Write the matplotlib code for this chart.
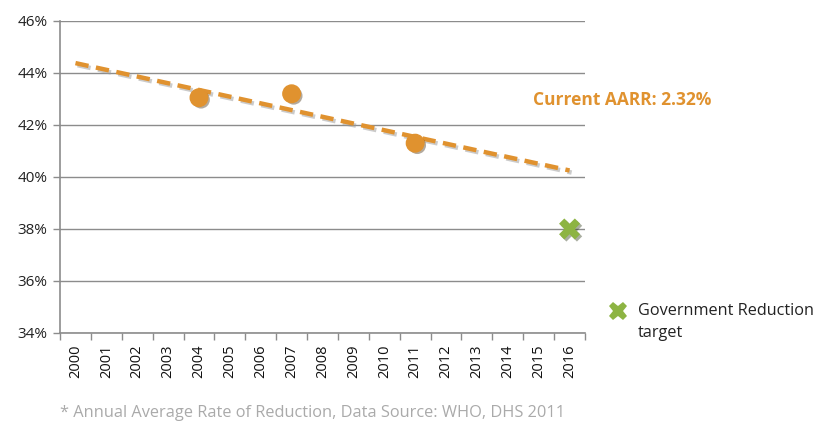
import numpy as np
import matplotlib
matplotlib.use('Agg')
import matplotlib.pyplot as plt
import matplotlib.patheffects as pe

plt.rcParams['font.family'] = ['Open Sans', 'DejaVu Sans']

years = list(range(2000, 2017))
survey_years = [2004, 2007, 2011]
survey_vals = [43.05, 43.2, 41.3]
target_year = [2016]
target_val = [38.0]
trend_years = [2000, 2016]
trend_vals = [44.38, 40.25]
yticks = [34, 36, 38, 40, 42, 44, 46]

orange = '#E0922F'
green = '#8DB443'
grid_c = '#8C8C8C'

fig = plt.figure(figsize=(8.19, 4.23), dpi=100)
ax = fig.add_axes([0.0733, 0.2128, 0.641, 0.7376])

shadow = [pe.SimpleLineShadow(offset=(1.5, -1.5), shadow_color='#999999', alpha=0.5), pe.Normal()]
ax.plot(trend_years, trend_vals, color=orange, lw=3.2, ls=(0, (3.0, 1.7)),
        path_effects=shadow, zorder=3)
ax.scatter(survey_years, survey_vals, s=160, color=orange, zorder=4,
           path_effects=[pe.SimplePatchShadow(offset=(1.5, -1.5), alpha=0.4), pe.Normal()])
ax.scatter(target_year, target_val, s=230, marker='X', color=green, zorder=4,
           linewidths=0,
           path_effects=[pe.SimplePatchShadow(offset=(1.5, -1.5), alpha=0.4), pe.Normal()])

ax.set_xlim(1999.5, 2016.5)
ax.set_ylim(34, 46)
ax.set_yticks(yticks)
ax.set_yticklabels(['%d%%' % v for v in yticks], fontsize=11, color='#222222')
ax.set_xticks(years)
ax.set_xticklabels([str(y) for y in years], rotation=90, fontsize=10.5, color='#111111')
ax.set_xticks(np.arange(1999.5, 2017, 1), minor=True)
ax.tick_params(axis='x', which='major', length=0, pad=8)
ax.tick_params(axis='x', which='minor', length=5, color=grid_c, width=1)
ax.tick_params(axis='y', length=5, color=grid_c, width=1, pad=4)

ax.grid(axis='y', color=grid_c, lw=1)
ax.set_axisbelow(True)
for s in ['top', 'right']:
    ax.spines[s].set_visible(False)
for s in ['left', 'bottom']:
    ax.spines[s].set_color(grid_c)
    ax.spines[s].set_linewidth(1.2)

fig.text(0.651, 0.763, 'Current AARR: 2.32%', color=orange, fontsize=12.5,
         fontweight='bold', ha='left', va='center')

fig.lines.append(plt.Line2D([0.754], [0.265], transform=fig.transFigure, marker='X',
                            markersize=13, color=green, markeredgewidth=0, ls='none'))
fig.text(0.779, 0.265, 'Government Reduction', fontsize=11.7, color='#222222',
         ha='left', va='center')
fig.text(0.779, 0.213, 'target', fontsize=11.7, color='#222222', ha='left', va='center')

fig.text(0.073, 0.024, '* Annual Average Rate of Reduction, Data Source: WHO, DHS 2011',
         fontsize=11.8, color='#AAAAAA', ha='left', va='center')

fig.savefig('out.png', dpi=100)
